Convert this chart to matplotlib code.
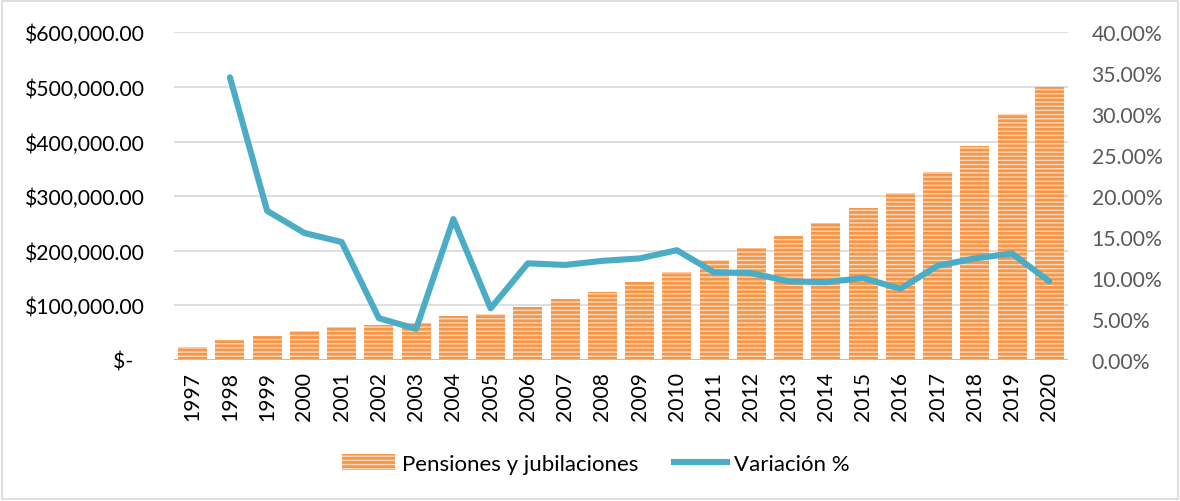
import matplotlib
matplotlib.use("Agg")
import matplotlib.pyplot as plt
from matplotlib.ticker import FuncFormatter, MultipleLocator
from matplotlib.patches import Patch, Rectangle
from matplotlib.lines import Line2D

years = [str(y) for y in range(1997, 2021)]
pensiones = [24500, 36000, 44500, 52500, 61000, 64000, 67000, 81000,
             85000, 97500, 111000, 125000, 142000, 162000, 183000, 205000,
             226500, 251000, 279000, 305000, 344000, 392500, 450500, 499500]
# variation starts in 1998
variacion = [None, 34.5, 18.2, 15.5, 14.4, 5.1, 3.8, 17.2,
             6.3, 11.8, 11.6, 12.1, 12.4, 13.4, 10.7, 10.6,
             9.6, 9.5, 10.0, 8.7, 11.5, 12.4, 13.0, 9.6]

ORANGE = "#F79646"
STRIPE = "#FCD9BD"
BLUE = "#4BACC6"
FONT = "Lato"
FS = 15.2

plt.rcParams["font.family"] = [FONT, "DejaVu Sans"]
plt.rcParams["hatch.linewidth"] = 1.0

fig = plt.figure(figsize=(11.8, 5.02), dpi=100)
ax = fig.add_axes([0.1475, 0.2809, 0.7575, 0.6528])
ax2 = ax.twinx()

x = list(range(len(years)))
ax.bar(x, pensiones, width=0.78, color=ORANGE, edgecolor=STRIPE,
       hatch="----", linewidth=0, zorder=2)

xv = [i for i, v in zip(x, variacion) if v is not None]
yv = [v / 100 for v in variacion if v is not None]
ax2.plot(xv, yv, color=BLUE, lw=4.4, solid_capstyle="round",
         solid_joinstyle="round", zorder=3)

ax.set_xlim(-0.5, len(years) - 0.5)
ax.set_ylim(0, 600000)
ax2.set_ylim(0, 0.40)
ax.yaxis.set_major_locator(MultipleLocator(100000))
ax2.yaxis.set_major_locator(MultipleLocator(0.05))


def money(v, pos):
    if v == 0:
        return "$-\u2007"
    return "${:,.2f}".format(v)


ax.yaxis.set_major_formatter(FuncFormatter(money))
ax2.yaxis.set_major_formatter(FuncFormatter(lambda v, p: "{:.2f}%".format(v * 100)))

ax.set_xticks(x)
ax.set_xticklabels(years, rotation=90, fontsize=FS, color="#000000")
ax.tick_params(axis="x", length=0, pad=8)
ax.tick_params(axis="y", length=0, pad=21, labelsize=FS, labelcolor="#000000")
ax2.tick_params(axis="y", length=0, pad=17, labelsize=FS, labelcolor="#595959")

ax.grid(axis="y", color="#D9D9D9", lw=1.2, zorder=0)
ax.set_axisbelow(True)
for a in (ax, ax2):
    for s in a.spines.values():
        s.set_visible(False)
ax.axhline(0, color="#BFBFBF", lw=2.2, zorder=4)

handles = [
    Patch(facecolor=ORANGE, edgecolor=STRIPE, hatch="----", linewidth=0,
          label="Pensiones y jubilaciones"),
    Line2D([], [], color=BLUE, lw=4.4, label="Variación %"),
]
fig.legend(handles=handles, loc="center", bbox_to_anchor=(0.505, 0.074),
           ncol=2, frameon=False, fontsize=16, handlelength=2.4,
           handletextpad=0.3, columnspacing=1.6)

fig.patches.append(Rectangle((0.002, 0.003), 0.996, 0.994, transform=fig.transFigure,
                             fill=False, edgecolor="#D9D9D9", lw=1.2))

fig.savefig("out.png", dpi=100)
